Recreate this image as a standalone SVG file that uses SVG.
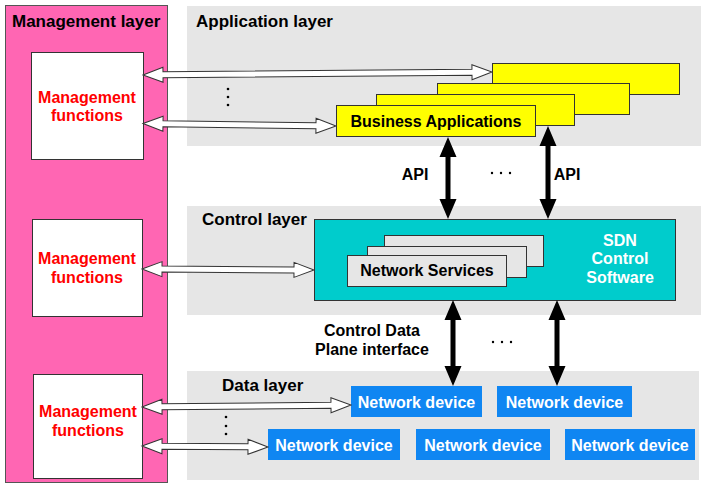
<svg xmlns="http://www.w3.org/2000/svg" width="706" height="488" viewBox="0 0 706 488">
<style>
text{font-family:"Liberation Sans",Arial,sans-serif;font-weight:bold;}
.lbl{font-size:17px;fill:#000;}
.t16{font-size:16px;fill:#000;}
.mf{font-size:16px;fill:#ff0000;text-anchor:middle;}
.wt{font-size:16px;fill:#ffffff;text-anchor:middle;}
.layer{fill:#e6e6e6;}
.box{fill:#ffffff;stroke:#333;stroke-width:1;}
.ylw{fill:#ffff00;stroke:#333;stroke-width:1;}
.ns{fill:#e6e6e6;stroke:#333;stroke-width:1;}
.dev{fill:#0f86f2;}
.hol{fill:#ffffff;stroke:#333;stroke-width:1;}
.blk{fill:#000;}
.dot{fill:#000;}
</style>
<rect width="706" height="488" fill="#ffffff"/>
<g id="management-layer">
<rect x="5.5" y="5.5" width="162" height="477" fill="#ff66b3" stroke="#555" stroke-width="1"/>
<text class="lbl" x="12" y="27">Management layer</text>
</g>
<g id="application-layer">
<rect class="layer" x="187" y="6" width="514" height="140"/>
<text class="lbl" x="196" y="27">Application layer</text>
</g>
<g id="control-layer">
<rect class="layer" x="187" y="206" width="514" height="109"/>
<text class="lbl" x="202" y="225">Control layer</text>
</g>
<g id="data-layer">
<rect class="layer" x="187" y="371" width="512" height="109"/>
<text class="lbl" x="222" y="391">Data layer</text>
</g>
<g id="mgmt-fn-1">
<rect class="box" x="31.5" y="52.5" width="112" height="107"/>
<text class="mf" x="87" y="103">Management</text>
<text class="mf" x="87" y="121">functions</text>
</g>
<g id="mgmt-fn-2">
<rect class="box" x="32.5" y="219.5" width="110" height="97"/>
<text class="mf" x="87" y="264">Management</text>
<text class="mf" x="87" y="283">functions</text>
</g>
<g id="mgmt-fn-3">
<rect class="box" x="33.5" y="374.5" width="109" height="104"/>
<text class="mf" x="88" y="417">Management</text>
<text class="mf" x="88" y="436">functions</text>
</g>
<g id="business-applications">
<rect class="ylw" x="492.5" y="63.5" width="187" height="31"/>
<rect class="ylw" x="437.5" y="83.5" width="192" height="31"/>
<rect class="ylw" x="376.5" y="94.5" width="198" height="31"/>
<rect class="ylw" x="336.5" y="105.5" width="199" height="31"/>
<text class="t16" x="436" y="127" text-anchor="middle">Business Applications</text>
</g>
<g id="sdn-control-software">
<rect x="314.5" y="219.5" width="361" height="81" fill="#00cccc" stroke="#333" stroke-width="1"/>
<text class="wt" x="620" y="246">SDN</text>
<text class="wt" x="620" y="264">Control</text>
<text class="wt" x="620" y="283">Software</text>
</g>
<g id="network-services">
<rect class="ns" x="384.5" y="235.5" width="159" height="31"/>
<rect class="ns" x="367.5" y="246.5" width="159" height="31"/>
<rect class="ns" x="347.5" y="255.5" width="159" height="31"/>
<text class="t16" x="427" y="276" text-anchor="middle">Network Services</text>
</g>
<g id="network-device-1">
<rect class="dev" x="351" y="386" width="131" height="31"/>
<text class="wt" x="416.5" y="408">Network device</text>
</g>
<g id="network-device-2">
<rect class="dev" x="497" y="386" width="135" height="31"/>
<text class="wt" x="564.5" y="408">Network device</text>
</g>
<g id="network-device-3">
<rect class="dev" x="268" y="429" width="132" height="31"/>
<text class="wt" x="334" y="451">Network device</text>
</g>
<g id="network-device-4">
<rect class="dev" x="416" y="429" width="134" height="31"/>
<text class="wt" x="483" y="451">Network device</text>
</g>
<g id="network-device-5">
<rect class="dev" x="565" y="429" width="130" height="31"/>
<text class="wt" x="630" y="451">Network device</text>
</g>
<g id="connectors">
<path class="hol" transform="translate(143,75) rotate(-0.49)" d="M0,0 L20,-7.5 L20,-3 L329,-3 L329,-7.5 L349,0 L329,7.5 L329,3 L20,3 L20,7.5 Z"/>
<path class="hol" transform="translate(143,123.5) rotate(0.74)" d="M0,0 L20,-7.5 L20,-3 L173,-3 L173,-7.5 L193,0 L173,7.5 L173,3 L20,3 L20,7.5 Z"/>
<path class="hol" transform="translate(142,269) rotate(0.33)" d="M0,0 L20,-7.5 L20,-3 L152,-3 L152,-7.5 L172,0 L152,7.5 L152,3 L20,3 L20,7.5 Z"/>
<path class="hol" transform="translate(142,407) rotate(-0.55)" d="M0,0 L20,-7.5 L20,-3 L189,-3 L189,-7.5 L209,0 L189,7.5 L189,3 L20,3 L20,7.5 Z"/>
<path class="hol" transform="translate(142,446) rotate(0.45)" d="M0,0 L20,-7.5 L20,-3 L106,-3 L106,-7.5 L126,0 L106,7.5 L106,3 L20,3 L20,7.5 Z"/>
<path class="blk" d="M448,137 L456.5,157 L450.5,157 L450.5,199 L456.5,199 L448,219 L439.5,199 L445.5,199 L445.5,157 L439.5,157 Z"/>
<path class="blk" d="M548,126 L556.5,146 L550.5,146 L550.5,199 L556.5,199 L548,219 L539.5,199 L545.5,199 L545.5,146 L539.5,146 Z"/>
<path class="blk" d="M453,300 L461.5,320 L455.5,320 L455.5,366 L461.5,366 L453,386 L444.5,366 L450.5,366 L450.5,320 L444.5,320 Z"/>
<path class="blk" d="M557,300 L565.5,320 L559.5,320 L559.5,366 L565.5,366 L557,386 L548.5,366 L554.5,366 L554.5,320 L548.5,320 Z"/>
</g>
<g id="labels">
<text class="t16" x="415" y="180" text-anchor="middle">API</text>
<text class="t16" x="567" y="180" text-anchor="middle">API</text>
<text class="t16" x="372" y="336" text-anchor="middle">Control Data</text>
<text class="t16" x="372" y="355" text-anchor="middle">Plane interface</text>
</g>
<g id="ellipses">
<circle class="dot" cx="228" cy="89" r="1.3"/>
<circle class="dot" cx="228" cy="97" r="1.3"/>
<circle class="dot" cx="228" cy="105" r="1.3"/>
<circle class="dot" cx="226" cy="417" r="1.3"/>
<circle class="dot" cx="226" cy="426" r="1.3"/>
<circle class="dot" cx="226" cy="434" r="1.3"/>
<circle class="dot" cx="492" cy="173" r="1.2"/>
<circle class="dot" cx="501" cy="173" r="1.2"/>
<circle class="dot" cx="510" cy="173" r="1.2"/>
<circle class="dot" cx="493" cy="342" r="1.2"/>
<circle class="dot" cx="502" cy="342" r="1.2"/>
<circle class="dot" cx="511" cy="342" r="1.2"/>
</g>
</svg>
